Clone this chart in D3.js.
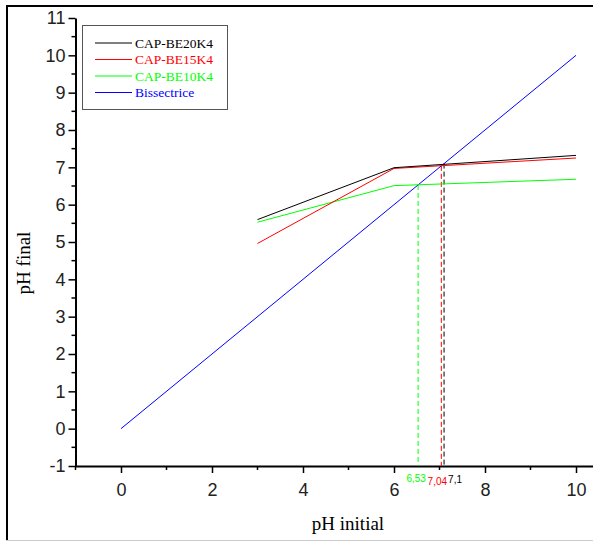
<!DOCTYPE html>
<head>
  <meta charset="utf-8">
  <title>pH final vs pH initial</title>
<style>
html, body{
  margin: 0;
  padding: 0;
  background: #fff;
}
.tick text{
  font-family: 'Liberation Sans', Arial, sans-serif;
  font-size: 18px;
}
.title{
  font-family: 'Liberation Serif', 'Times New Roman', serif;
  font-size: 19px;
}
.legend text{
  font-family: 'Liberation Serif', 'Times New Roman', serif;
  font-size: 13.5px;
}
</style>
</head>
<body>
<svg width="593" height="542"></svg>
<script src="https://d3js.org/d3.v7.min.js"></script>
<script>
var seriesNames = ["CAP-BE20K4", "CAP-BE15K4", "CAP-BE10K4", "Bissectrice"];
var seriesColors = ["#000000", "#ff0000", "#00ff00", "#0000ff"];
var phInitial = [3, 6, 10];
var be20 = [5.60, 6.99, 7.32];
var be15 = [4.96, 6.97, 7.25];
var be10 = [5.53, 6.51, 6.68];
var bisX = [0, 10];
var bisY = [0, 10];
// intersections with the bisector: value, colour
var crossVals = [6.53, 7.04, 7.1];
var crossLabels = ["6,53", "7,04", "7,1"];
var crossColors = ["#00ff00", "#ff0000", "#000000"];
var xTicks = [0, 2, 4, 6, 8, 10];
var yTicks = [-1, 0, 1, 2, 3, 4, 5, 6, 7, 8, 9, 10, 11];

var svg = d3.select("svg");

// outer frame
svg.append("line").attr("x1", 7).attr("y1", 6).attr("x2", 7).attr("y2", 541)
   .attr("stroke", "#000").attr("stroke-width", 2);
svg.append("line").attr("x1", 6).attr("y1", 6).attr("x2", 593).attr("y2", 6)
   .attr("stroke", "#000").attr("stroke-width", 2);
svg.append("line").attr("x1", 6).attr("y1", 540.5).attr("x2", 593).attr("y2", 540.5)
   .attr("stroke", "#ccc").attr("stroke-width", 1);

var x = d3.scaleLinear().domain([-1, 10.5]).range([75.5, 598.75]);
var y = d3.scaleLinear().domain([-1, 11]).range([466, 18]);

var g = svg.append("g");

// minor ticks
g.selectAll(".xminor").data([-1, 1, 3, 5, 7, 9]).enter().append("line")
  .attr("x1", function(d){ return x(d); }).attr("x2", function(d){ return x(d); })
  .attr("y1", y(-1)).attr("y2", y(-1) + 4)
  .attr("stroke", "#000").attr("stroke-width", 1.5);
g.selectAll(".yminor").data(d3.range(-0.5, 11, 1)).enter().append("line")
  .attr("x1", x(-1) - 4).attr("x2", x(-1))
  .attr("y1", function(d){ return y(d); }).attr("y2", function(d){ return y(d); })
  .attr("stroke", "#000").attr("stroke-width", 1.5);

var fmt = function(d){ return String(d); }; // plain hyphen for -1
var xAxis = g.append("g").attr("transform", "translate(0," + y(-1) + ")")
  .call(d3.axisBottom(x).tickValues(xTicks).tickFormat(fmt).tickSize(7).tickPadding(10).tickSizeOuter(0));
var yAxis = g.append("g").attr("transform", "translate(" + x(-1) + ",0)")
  .call(d3.axisLeft(y).tickValues(yTicks).tickFormat(fmt).tickSize(7).tickPadding(3).tickSizeOuter(0));
[xAxis, yAxis].forEach(function(a){
  a.select(".domain").attr("stroke-width", 2);
  a.selectAll(".tick line").attr("stroke-width", 1.5);
  a.selectAll(".tick text").attr("fill", "#222");
});

// dashed drop lines
crossVals.forEach(function(v, i){
  g.append("line")
    .attr("x1", x(v)).attr("x2", x(v))
    .attr("y1", y(v)).attr("y2", y(-1))
    .attr("stroke", crossColors[i]).attr("stroke-width", 1)
    .attr("stroke-dasharray", "5,3");
});
var labelDy = [16, 19, 17];
var labelDx = [-2, -4, 11];
crossVals.forEach(function(v, i){
  g.append("text")
    .attr("x", x(v) + labelDx[i]).attr("y", y(-1) + labelDy[i])
    .attr("text-anchor", "middle")
    .attr("fill", crossColors[i])
    .style("font-family", "'Liberation Sans', Arial, sans-serif")
    .style("font-size", "10px")
    .text(crossLabels[i]);
});

var line = d3.line().x(function(d){ return x(d[0]); }).y(function(d){ return y(d[1]); });
var seriesData = [
  d3.zip(phInitial, be20),
  d3.zip(phInitial, be15),
  d3.zip(phInitial, be10),
  d3.zip(bisX, bisY)
];
// draw bisector first, then the measured series on top
[3, 2, 1, 0].forEach(function(i){
  g.append("path").datum(seriesData[i])
    .attr("d", line)
    .attr("fill", "none")
    .attr("stroke", seriesColors[i])
    .attr("stroke-width", 1);
});

// legend
var legend = svg.append("g").attr("class", "legend");
legend.append("rect").attr("x", 82.5).attr("y", 25.5).attr("width", 145).attr("height", 84)
  .attr("fill", "#fff").attr("stroke", "#555").attr("stroke-width", 1);
seriesNames.forEach(function(name, i){
  var yy = 43 + i * 16.5;
  legend.append("line").attr("x1", 95).attr("x2", 132).attr("y1", yy).attr("y2", yy)
    .attr("stroke", seriesColors[i]).attr("stroke-width", 1);
  legend.append("text").attr("x", 135).attr("y", yy + 4.5)
    .attr("fill", seriesColors[i]).text(name);
});

svg.append("text").attr("class", "title")
  .attr("x", 348).attr("y", 530).attr("text-anchor", "middle").text("pH initial");
svg.append("text").attr("class", "title")
  .attr("transform", "translate(30,263) rotate(-90)")
  .attr("text-anchor", "middle").text("pH final");
</script>
</body>
